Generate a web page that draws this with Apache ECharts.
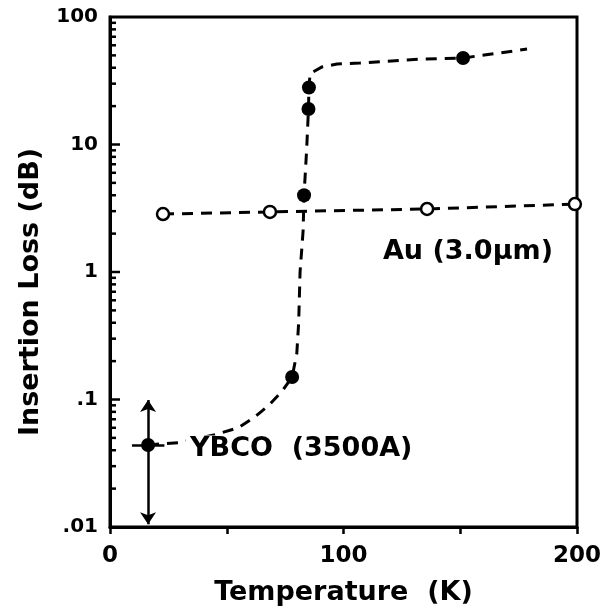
<!DOCTYPE html>
<html>
<head>
<meta charset="utf-8">
<script src="https://cdn.jsdelivr.net/npm/echarts@6/dist/echarts.min.js"></script>
<style>html,body{margin:0;padding:0;background:#fff;}#c{width:607px;height:615px;}</style>
</head>
<body>
<div id="c"></div>
<script>
// ---- data ----
var ybcoT    = [16.3, 78, 83.1, 85.0, 85.2, 151.2];
var ybcoLoss = [0.044, 0.15, 4.0, 19, 28, 47.7];
var auT      = [22.7, 68.5, 135.8, 199.1];
var auLoss   = [2.85, 2.96, 3.12, 3.41];
// dashed guide curve drawn through the YBCO data
var ybcoCurveT    = [16.3, 30, 45, 55, 62, 68, 74, 78, 80, 80.8, 81.4, 82.7, 83.1, 84.2, 85.0, 85.2, 85.7, 90.8, 97.2, 107, 133, 151.2, 178.6];
var ybcoCurveLoss = [0.044, 0.046, 0.053, 0.06, 0.073, 0.09, 0.118, 0.15, 0.23, 0.4, 1.0, 2.1, 4.0, 9, 19, 28, 36, 40.6, 42.8, 43.6, 46.8, 47.7, 56];
// error bar on the lowest YBCO point
var ybcoErrT = 16.3, ybcoErrLow = 0.0105, ybcoErrHigh = 0.099, ybcoErrTLow = 9.4, ybcoErrTHigh = 23.3;
// axis labels
var xTickLabels = ['0', '100', '200'];
var yTickLabels = {'0.01': '.01', '0.1': '.1', '1': '1', '10': '10', '100': '100'};
var xTitle = 'Temperature  (K)';
var yTitle = 'Insertion Loss (dB)';
var auLabel = 'Au (3.0\u03bcm)';
var ybcoLabel = 'YBCO  (3500A)';

// minor log ticks (2..9 of each decade)
var yMinor = [];
[0.01, 0.1, 1, 10].forEach(function (d) { for (var k = 2; k <= 9; k++) yMinor.push(+(k * d).toPrecision(3)); });
var yMajor = [0.1, 1, 10];

function zip(a, b) { return a.map(function (v, i) { return [v, b[i]]; }); }

var chart = echarts.init(document.getElementById('c'), null, {renderer: 'canvas'});
var FONT = '"DejaVu Sans", "Liberation Sans", sans-serif';
chart.setOption({
  animation: false,
  backgroundColor: '#fff',
  grid: {left: 110, right: 30, top: 17, bottom: 88, show: true, borderColor: '#000', borderWidth: 3, backgroundColor: 'transparent'},
  xAxis: {
    type: 'value', min: 0, max: 200, interval: 50,
    name: xTitle, nameLocation: 'middle', nameGap: 52,
    nameTextStyle: {fontFamily: FONT, fontWeight: 'bold', fontSize: 27, color: '#000'},
    axisLine: {show: true, lineStyle: {color: '#000', width: 3}},
    axisTick: {show: true, length: 7, lineStyle: {color: '#000', width: 2.5}},
    axisLabel: {
      margin: 18, fontFamily: FONT, fontWeight: 'bold', fontSize: 23, color: '#000',
      formatter: function (v) { var s = String(v); return xTickLabels.indexOf(s) >= 0 ? s : ''; }
    },
    splitLine: {show: false}
  },
  yAxis: {
    type: 'log', logBase: 10, min: 0.01, max: 100,
    name: yTitle, nameLocation: 'middle', nameGap: 66,
    nameTextStyle: {fontFamily: FONT, fontWeight: 'bold', fontSize: 27, color: '#000', padding: [0, 0, 0, -40]},
    axisLine: {show: true, lineStyle: {color: '#000', width: 3}},
    axisTick: {show: false},
    axisLabel: {
      margin: 12, fontFamily: FONT, fontWeight: 'bold', fontSize: 20, color: '#000',
      formatter: function (v) { var k = String(+v.toPrecision(3)); return yTickLabels[k] || ''; }
    },
    splitLine: {show: false}
  },
  graphic: [
    {type: 'text', x: 553, y: 252, z: 100,
     style: {text: auLabel, font: 'bold 27px ' + FONT, fill: '#000', align: 'right', verticalAlign: 'middle'}},
    {type: 'text', x: 186, y: 449, z: 100,
     style: {text: ybcoLabel, font: 'bold 27px ' + FONT, fill: '#000', align: 'left', verticalAlign: 'middle',
             backgroundColor: '#fff', padding: [0, 2, 0, 4]}}
  ],
  series: [
    { // y-axis minor/major inner ticks
      type: 'custom', silent: true, z: 1,
      data: yMinor.map(function (v) { return [0, v, 6]; }).concat(yMajor.map(function (v) { return [0, v, 10]; })),
      renderItem: function (params, api) {
        var p = api.coord([api.value(0), api.value(1)]);
        return {type: 'line', shape: {x1: p[0], y1: p[1], x2: p[0] + api.value(2), y2: p[1]},
                style: {stroke: '#000', lineWidth: 2.5}};
      }
    },
    { // YBCO dashed guide
      type: 'line', data: zip(ybcoCurveT, ybcoCurveLoss), showSymbol: false, symbol: 'none', z: 2,
      lineStyle: {color: '#000', width: 3, type: [11, 8], opacity: 1},
      markLine: {
        silent: true, symbol: ['none', 'arrow'], symbolSize: 12, label: {show: false},
        lineStyle: {color: '#000', width: 2.5, type: 'solid', opacity: 1},
        data: [
          [{coord: [ybcoErrT, ybcoLoss[0]]}, {coord: [ybcoErrT, ybcoErrHigh]}],
          [{coord: [ybcoErrT, ybcoLoss[0]]}, {coord: [ybcoErrT, ybcoErrLow]}],
          [{coord: [ybcoErrTLow, ybcoLoss[0]], symbol: 'none'}, {coord: [ybcoErrTHigh, ybcoLoss[0]], symbol: 'none'}]
        ]
      }
    },
    { // YBCO data
      type: 'scatter', data: zip(ybcoT, ybcoLoss), symbol: 'circle', symbolSize: 14, z: 3,
      itemStyle: {color: '#000', opacity: 1}
    },
    { // Au data, dashed
      type: 'line', data: zip(auT, auLoss), symbol: 'circle', symbolSize: 12, showSymbol: true, z: 3,
      lineStyle: {color: '#000', width: 3, type: [11, 8], opacity: 1},
      itemStyle: {color: '#fff', borderColor: '#000', borderWidth: 2.5, opacity: 1}
    }
  ]
});
</script>
</body>
</html>
